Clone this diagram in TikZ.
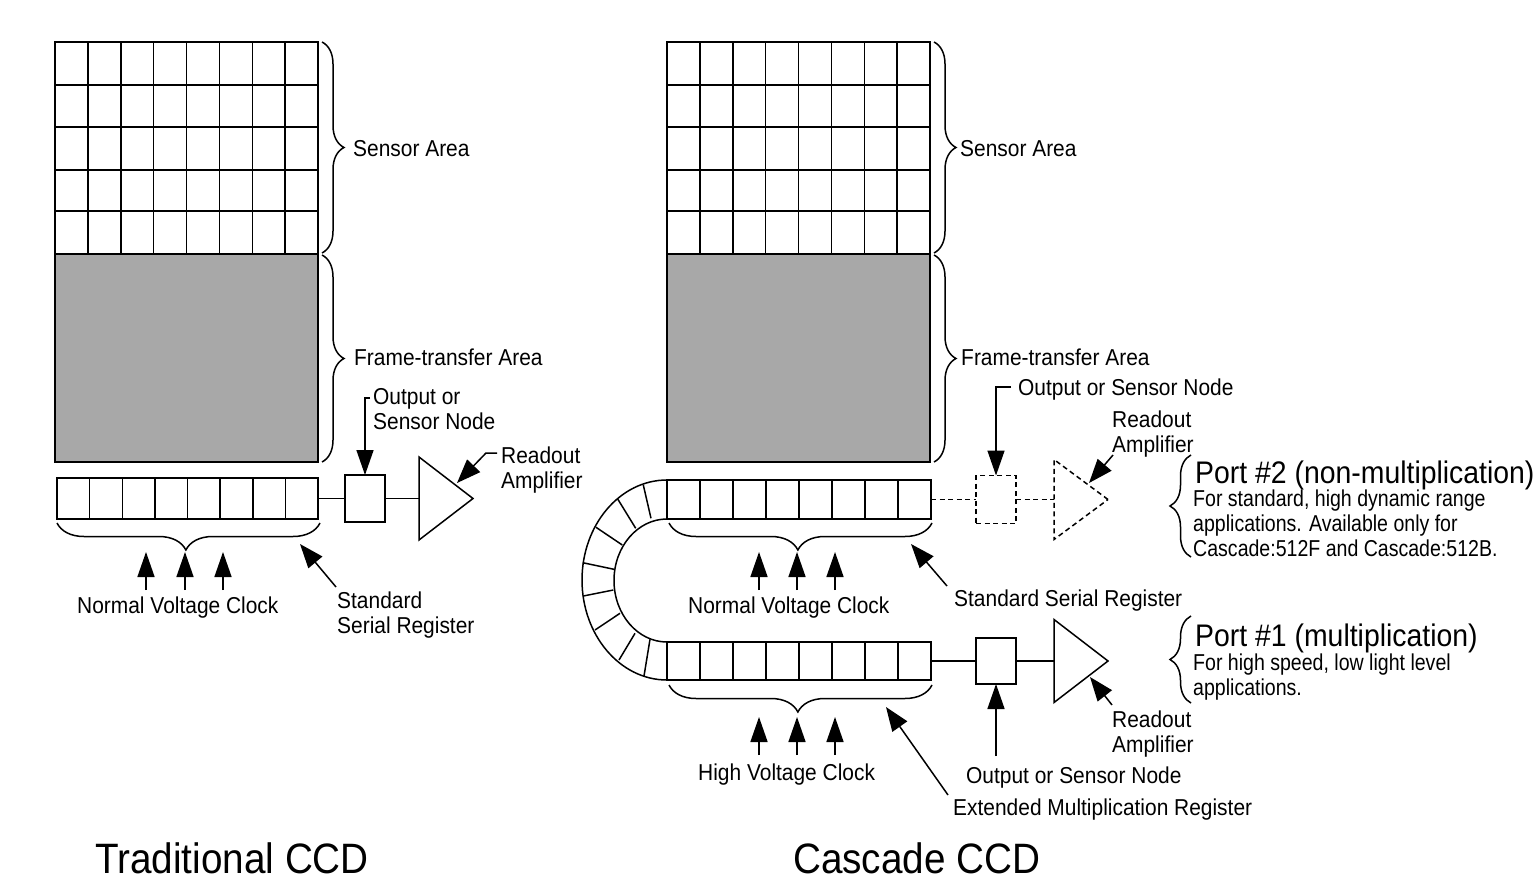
\documentclass[tikz,border=0pt]{standalone}
\usepackage{fontspec}
\setmainfont[FakeStretch=0.91]{Liberation Sans}
\newfontfamily\narrowfont[FakeStretch=0.85]{Liberation Sans}
\usetikzlibrary{arrows.meta,decorations.pathreplacing,shapes.geometric,calc}
\tikzset{
  ln/.style={line width=1.5pt,black},
  cellbox/.style={draw,ln,rectangle,inner sep=0pt,outer sep=0pt,anchor=north west},
  node box/.style={draw,ln,rectangle,inner sep=0pt,outer sep=0pt,minimum width=40pt,minimum height=47pt},
  amp/.style={draw,ln,isosceles triangle,isosceles triangle stretches,inner sep=0pt,outer sep=0pt,
     minimum height=54pt,minimum width=83pt,anchor=lower side},
  arr/.style={ln,-{Triangle[length=25pt,width=17pt]}},
  arrs/.style={ln,-{Triangle[length=24pt,width=18pt]}},
  brc/.style={ln,decorate,decoration={brace,amplitude=#1,raise=0pt}},
  brc/.default=27pt,
  lbl/.style={inner sep=0pt,anchor=west,align=left,yshift=-2.5pt,font=\fontsize{23}{25}\selectfont},
  nlbl/.style={lbl,font=\narrowfont\fontsize{23}{25}\selectfont},
  big/.style={inner sep=0pt,anchor=west,yshift=-2pt,font=\fontsize{31.2}{33}\selectfont},
  ttl/.style={inner sep=0pt,anchor=west,font=\fontsize{42.5}{45}\selectfont},
  dsh/.style={dash pattern=on 5pt off 3.5pt},
}
\begin{document}
\begin{tikzpicture}[x=1pt,y=-1pt]
\useasboundingbox (0,0) rectangle (1533,882);
% ---------- sensor + frame transfer on both sides
\foreach \n/\ox in {L/55,R/667}{
  \node[cellbox,minimum width=263pt,minimum height=212pt] (sensor\n) at (\ox,42) {};
  \node[cellbox,minimum width=263pt,minimum height=208pt,fill=black!34] (frame\n) at (\ox,254) {};
  \foreach \i in {1,...,7} \draw[ln] (\ox+32.875*\i,42) -- (\ox+32.875*\i,254);
  \foreach \yy in {85,127,170,211} \draw[ln] (\ox,\yy) -- (\ox+263,\yy);
  \draw[brc=22pt,decoration={aspect=0.5}] (\ox+267,42) -- (\ox+267,253);
  \draw[brc=22pt,decoration={aspect=0.5}] (\ox+267,255) -- (\ox+267,462);
}
\node[lbl] (sensL) at (353,146.5) {Sensor Area};
\node[lbl] (frL) at (354,355) {Frame-transfer Area};
\node[lbl] (sensR) at (960,146.5) {Sensor Area};
\node[lbl] (frR) at (961,355) {Frame-transfer Area};
% ---------- left register
\node[cellbox,minimum width=261pt,minimum height=41pt] (regL) at (57,478) {};
\foreach \i in {1,...,7} \draw[ln] (57+32.625*\i,478) -- (57+32.625*\i,519);
\draw[brc,decoration={aspect=0.51}] (320,523) -- (57,523);
\node[node box] (boxL) at (365,498.5) {};
\node[amp] (ampL) at (419,498.5) {};
\draw[ln] (regL.east) -- (regL.east -| boxL.west);
\draw[ln] (boxL.east) -- (boxL.east -| ampL.lower side);
\foreach \n/\xx in {a/146,b/185,c/223}{
  \coordinate (tl\n) at (\xx,590); \coordinate (hl\n) at (\xx,552);
  \draw[arr] (tl\n) -- (hl\n);
}
\node[lbl] (nvcL) at (77,605) {Normal Voltage Clock};
\node[lbl] (ssrL) at (337,612.5) {Standard\\Serial Register};
\coordinate (ssrLt) at (336,587); \coordinate (ssrLh) at (300,544);
\draw[arrs] (ssrLt) -- (ssrLh);
\node[lbl] (osL) at (373,407) {Output or\\Sensor Node};
\coordinate (osLt) at (370,398);
\draw[arr] (osLt) -| (boxL.north);
\node[lbl] (raL) at (501,468) {Readout\\Amplifier};
\coordinate (raLt) at (497,453); \coordinate (raLm) at (486,453); \coordinate (raLh) at (457,483);
\draw[arrs] (raLt) -- (raLm) -- (raLh);
% ---------- right: top register
\node[cellbox,minimum width=264pt,minimum height=39pt] (regT) at (667,480) {};
\foreach \i in {1,...,7} \draw[ln] (667+33*\i,480) -- (667+33*\i,519);
\draw[brc,decoration={aspect=0.51}] (932,523) -- (669,523);
% ---------- right: bottom register
\node[cellbox,minimum width=264pt,minimum height=38pt] (regB) at (667,642) {};
\foreach \i in {1,...,7} \draw[ln] (667+33*\i,642) -- (667+33*\i,680);
\draw[brc,decoration={aspect=0.51}] (932,685) -- (669,685);
% ---------- curved register
\draw[ln] (667,480) arc[start angle=90,end angle=270,x radius=85,y radius=-100];
\draw[ln] (667,519) arc[start angle=90,end angle=270,x radius=53,y radius=-61.5];
\foreach \xa/\ya/\xb/\yb in {643.3/485/651/518.3,617.7/499/635.7/528.3,596/527.3/622.3/545,
   582.7/562.7/614/569.3,583.3/596/613.3/590,595/630/620/613.3,619/660/635/633.3,644/676/650/639.3}
  \draw[ln] (\xa,\ya) -- (\xb,\yb);
% ---------- right: clock arrows
\foreach \n/\xx in {a/759,b/797,c/835}{
  \coordinate (tt\n) at (\xx,590); \coordinate (ht\n) at (\xx,552);
  \draw[arr] (tt\n) -- (ht\n);
  \coordinate (tb\n) at (\xx,755); \coordinate (hb\n) at (\xx,717);
  \draw[arr] (tb\n) -- (hb\n);
}
\node[lbl] (nvcR) at (688,605) {Normal Voltage Clock};
\node[lbl] (hvc) at (698,772) {High Voltage Clock};
\node[lbl] (ssrR) at (954,598) {Standard Serial Register};
\coordinate (ssrRt) at (947,586); \coordinate (ssrRh) at (911,544);
\draw[arrs] (ssrRt) -- (ssrRh);
\node[lbl] (emr) at (953,807) {Extended Multiplication Register};
\coordinate (emrt) at (948,795); \coordinate (emrh) at (886,707);
\draw[arrs] (emrt) -- (emrh);
% ---------- port 2 (dashed)
\node[node box,dsh,minimum height=48pt] (boxT) at (996,499.5) {};
\node[amp,dsh,minimum height=54pt,minimum width=80pt] (ampT) at (1054,499.5) {};
\draw[ln,dsh] (regT.east) -- (regT.east -| boxT.west);
\draw[ln,dsh] (boxT.east) -- (boxT.east -| ampT.lower side);
\node[lbl] (osT) at (1018,387) {Output or Sensor Node};
\coordinate (osTt) at (1011,387);
\draw[arr] (osTt) -| (boxT.north);
\node[lbl] (raT) at (1112,431.5) {Readout\\Amplifier};
\coordinate (raTt) at (1113,455); \coordinate (raTh) at (1089,483);
\draw[arrs] (raTt) -- (raTh);
\draw[brc=21pt,decoration={aspect=0.5}] (1191,557) -- (1191,455);
\node[big] (p2) at (1195,473) {Port \#2 (non-multiplication)};
\node[nlbl] (p2t) at (1193,520.5) {For standard, high dynamic range\\applications. Available only for\\Cascade:512F and Cascade:512B.};
% ---------- port 1
\node[node box,minimum height=46pt] (boxB) at (996,661) {};
\node[amp] (ampB) at (1054,661) {};
\draw[ln] (regB.east) -- (regB.east -| boxB.west);
\draw[ln] (boxB.east) -- (boxB.east -| ampB.lower side);
\node[lbl] (osB) at (966,775) {Output or Sensor Node};
\coordinate (osBt) at (996,756);
\draw[arr] (osBt) -- (boxB.south);
\node[lbl] (raB) at (1112,731.5) {Readout\\Amplifier};
\coordinate (raBt) at (1112,705); \coordinate (raBh) at (1090,677);
\draw[arrs] (raBt) -- (raBh);
\draw[brc=21pt,decoration={aspect=0.5}] (1191,703) -- (1191,616);
\node[big] (p1) at (1195,636) {Port \#1 (multiplication)};
\node[nlbl] (p1t) at (1193,674.5) {For high speed, low light level\\applications.};
% ---------- titles
\node[ttl] (t1) at (95,858) {Traditional CCD};
\node[ttl] (t2) at (793,858) {Cascade CCD};
\end{tikzpicture}
\end{document}
